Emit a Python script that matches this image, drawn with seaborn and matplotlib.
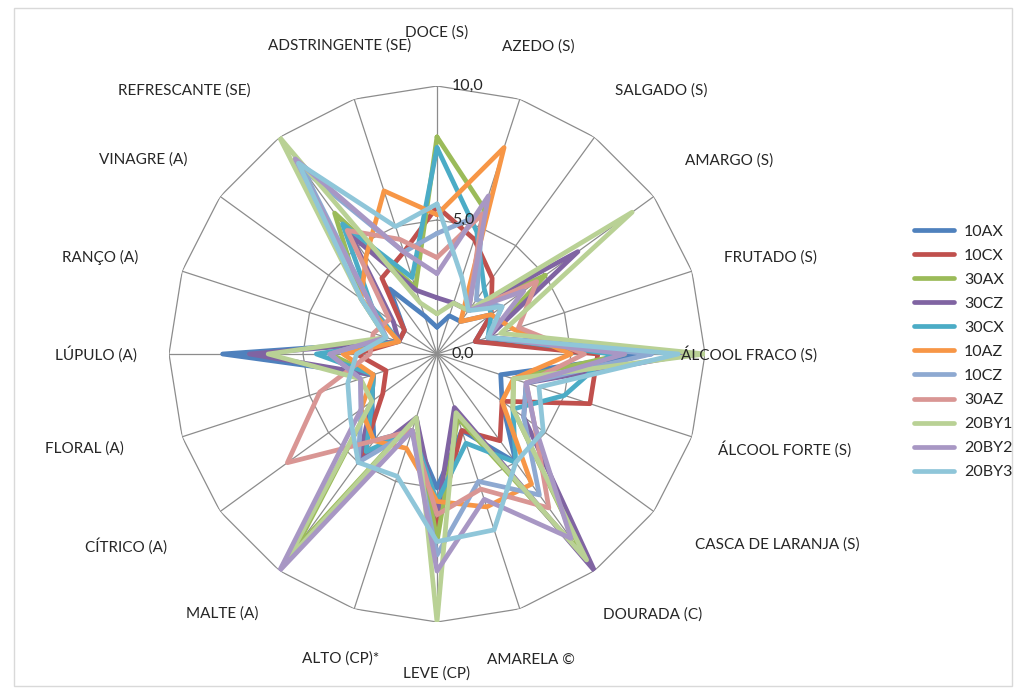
import numpy as np
import pandas as pd
import seaborn as sns
import matplotlib.pyplot as plt
from matplotlib.patches import Rectangle

categories = ["DOCE (S)", "AZEDO (S)", "SALGADO (S)", "AMARGO (S)", "FRUTADO (S)",
              "ÁLCOOL FRACO (S)", "ÁLCOOL FORTE (S)", "CASCA DE LARANJA (S)", "DOURADA (C)",
              "AMARELA ©", "LEVE (CP)", "ALTO (CP)*", "MALTE (A)", "CÍTRICO (A)",
              "FLORAL (A)", "LÚPULO (A)", "RANÇO (A)", "VINAGRE (A)",
              "REFRESCANTE (SE)", "ADSTRINGENTE (SE)"]

series_names = ["10AX", "10CX", "30AX", "30CZ", "30CX", "10AZ", "10CZ", "30AZ",
                "20BY1", "20BY2", "20BY3"]

v_10AX  = [1.0, 1.5, 1.5, 2.5, 1.5, 8.0, 2.5, 3.0, 5.0, 3.0, 5.0, 3.0, 4.0, 3.0, 2.5, 8.0, 1.5, 1.5, 3.0, 1.5]
v_10CX  = [5.5, 4.5, 3.5, 2.5, 1.5, 6.0, 6.0, 3.0, 4.0, 3.0, 6.5, 3.0, 4.8, 2.5, 2.0, 3.0, 1.5, 1.5, 3.5, 4.0]
v_30AX  = [8.1, 5.7, 2.0, 5.0, 2.0, 7.0, 3.0, 3.5, 9.3, 2.5, 7.0, 2.5, 9.0, 3.0, 2.5, 4.0, 2.0, 3.5, 6.5, 2.6]
v_30CZ  = [2.1, 2.0, 2.0, 6.5, 2.0, 9.5, 3.5, 4.0, 10.0, 2.1, 6.0, 2.5, 5.0, 3.0, 2.5, 7.0, 1.5, 2.0, 5.5, 2.5]
v_30CX  = [7.7, 4.8, 3.0, 2.5, 2.0, 6.5, 5.0, 3.5, 5.0, 3.5, 5.5, 3.0, 4.5, 3.0, 2.5, 4.5, 1.5, 3.0, 6.0, 3.0]
v_10AZ  = [5.2, 8.1, 1.5, 2.5, 3.0, 5.0, 3.0, 3.0, 6.0, 6.0, 5.5, 3.7, 4.0, 3.5, 2.5, 3.5, 1.5, 3.5, 4.5, 6.4]
v_10CZ  = [4.5, 5.5, 2.5, 3.0, 2.0, 8.0, 3.5, 4.0, 6.5, 5.0, 7.5, 3.0, 5.0, 3.5, 3.0, 4.0, 2.0, 3.0, 8.5, 4.0]
v_30AZ  = [3.6, 5.5, 2.0, 4.6, 3.2, 5.5, 3.5, 4.5, 7.1, 5.3, 6.0, 3.0, 4.0, 6.9, 4.6, 2.5, 2.5, 2.2, 5.7, 4.5]
v_20BY1 = [1.5, 2.0, 2.0, 9.0, 2.5, 10.0, 3.0, 3.5, 9.5, 2.3, 10.0, 2.5, 9.5, 3.0, 3.0, 6.3, 2.0, 3.5, 10.0, 2.0]
v_20BY2 = [3.0, 6.2, 2.0, 4.0, 2.0, 7.0, 3.5, 4.5, 8.5, 5.7, 8.1, 3.0, 10.0, 3.5, 3.0, 4.0, 2.0, 3.0, 9.0, 4.0]
v_20BY3 = [5.6, 3.0, 2.0, 3.0, 2.0, 9.0, 4.0, 4.9, 5.0, 6.9, 7.0, 4.8, 5.0, 4.0, 3.5, 3.0, 2.0, 3.5, 8.8, 5.0]

series_values = [v_10AX, v_10CX, v_30AX, v_30CZ, v_30CX, v_10AZ, v_10CZ, v_30AZ,
                 v_20BY1, v_20BY2, v_20BY3]

colors = ["#4F81BD", "#C0504D", "#9BBB59", "#8064A2", "#4BACC6", "#F79646",
          "#8EA9D1", "#D99694", "#B9D195", "#A897C4", "#8FC6D9"]

tick_values = [0, 5, 10]
tick_labels = ["0,0", "5,0", "10,0"]

# label centers in pixels (Excel places them a bit irregularly)
label_px = [(437, 33), (538, 47), (661, 91), (729, 161), (770, 258), (749, 354),
            (785, 449), (777, 545), (653, 615), (531, 660), (437, 674), (341, 659),
            (222, 614), (126, 546), (84, 449), (96, 354), (100, 257), (143, 160),
            (184, 91), (340, 46)]

W, H = 1019, 688
n = len(categories)
theta = np.linspace(0, 2 * np.pi, n, endpoint=False)

rows = []
for name, vals in zip(series_names, series_values):
    for t, v in zip(list(theta) + [2 * np.pi], vals + [vals[0]]):
        rows.append({"serie": name, "theta": t, "valor": v})
df = pd.DataFrame(rows)

sns.set_theme(style="white")
plt.rcParams["font.family"] = ["Lato", "DejaVu Sans"]

fig = plt.figure(figsize=(W / 100, H / 100), dpi=100)
cx, cy, R = 437, 354, 268
ax = fig.add_axes([(cx - R) / W, 1 - (cy + R) / H, 2 * R / W, 2 * R / H], projection="polar")
ax.set_theta_zero_location("N")
ax.set_theta_direction(-1)
ax.grid(False)
ax.spines["polar"].set_visible(False)
ax.set_xticks([])
ax.set_yticks([])
ax.set_facecolor("none")

# Excel-like polygon grid
grid_c = "#8c8c8c"
closed = np.append(theta, 2 * np.pi)
for r in tick_values[1:]:
    ax.plot(closed, [r] * len(closed), color=grid_c, lw=0.9, zorder=1)
for t in theta:
    ax.plot([t, t], [0, 10], color=grid_c, lw=0.9, zorder=1)

sns.lineplot(data=df, x="theta", y="valor", hue="serie", hue_order=series_names,
             palette=colors, sort=False, estimator=None, linewidth=3.4, ax=ax,
             legend=False, zorder=3)
ax.set_ylim(0, 10)
ax.set_xlabel("")
ax.set_ylabel("")

for v, lbl in zip(tick_values, tick_labels):
    ax.annotate(lbl, xy=(0, v), xytext=(15, 0), textcoords="offset pixels",
                ha="left", va="center", fontsize=11.5, color="#262626", zorder=5)

for lbl, (px, py) in zip(categories, label_px):
    fig.text(px / W, 1 - py / H, lbl, ha="center", va="center", fontsize=11, color="#262626")

handles = [plt.Line2D([], [], color=c, lw=3.4) for c in colors]
fig.legend(handles, series_names, loc="upper left", bbox_to_anchor=(908 / W, 1 - 218 / H),
           frameon=False, fontsize=11.5, handlelength=2.5, labelspacing=0.62,
           handletextpad=0.6, borderaxespad=0)

fig.patches.append(Rectangle((14 / W, 2 / H), 998 / W, 678 / H, transform=fig.transFigure,
                             fill=False, ec="#d9d9d9", lw=1))

fig.savefig("out.png", dpi=100)
